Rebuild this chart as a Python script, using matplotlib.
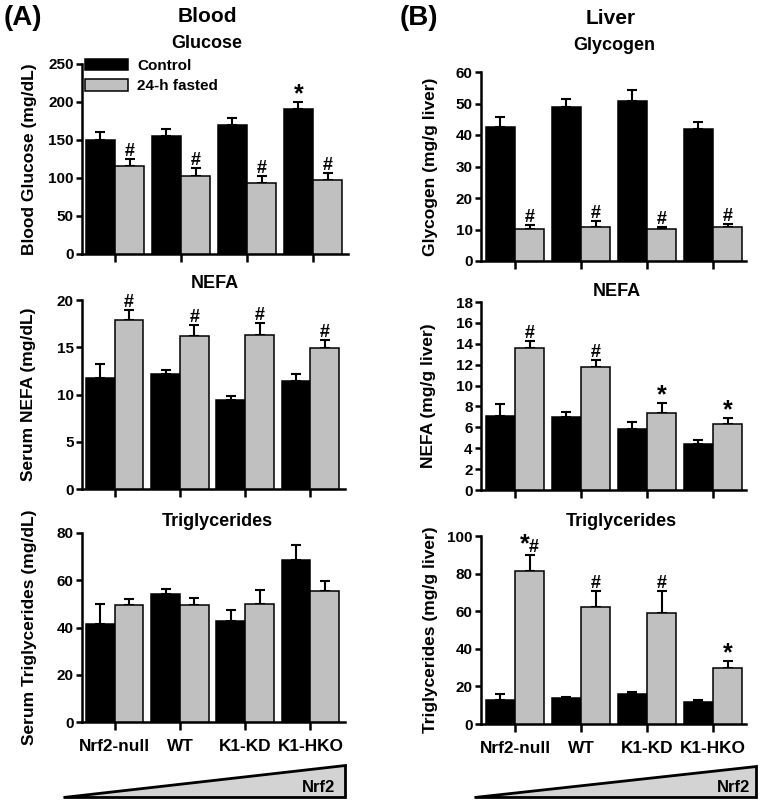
import matplotlib
matplotlib.use("Agg")
import matplotlib.pyplot as plt
from matplotlib.patches import Polygon
import numpy as np

plt.rcParams['font.family'] = ['Liberation Sans', 'DejaVu Sans']
plt.rcParams['font.weight'] = 'bold'

groups = ["Nrf2-null", "WT", "K1-KD", "K1-HKO"]
series_names = ["Control", "24-h fasted"]

# Blood
glu_ctrl = [150, 155, 170, 191]
glu_ctrl_err = [10, 10, 9, 9]
glu_fast = [116, 103, 93, 97]
glu_fast_err = [9, 10, 10, 10]
glu_ctrl_mark = ["", "", "", "*"]
glu_fast_mark = ["#", "#", "#", "#"]

snefa_ctrl = [11.75, 12.2, 9.4, 11.4]
snefa_ctrl_err = [1.45, 0.4, 0.45, 0.8]
snefa_fast = [17.9, 16.2, 16.3, 14.95]
snefa_fast_err = [1.05, 1.2, 1.3, 0.85]
snefa_ctrl_mark = ["", "", "", ""]
snefa_fast_mark = ["#", "#", "#", "#"]

stg_ctrl = [41.5, 54.2, 42.9, 68.5]
stg_ctrl_err = [8.3, 2.2, 4.3, 6.5]
stg_fast = [49.4, 49.4, 49.9, 55.4]
stg_fast_err = [2.6, 3.2, 5.8, 4.4]
stg_ctrl_mark = ["", "", "", ""]
stg_fast_mark = ["", "", "", ""]

# Liver
gly_ctrl = [42.5, 48.8, 50.9, 41.9]
gly_ctrl_err = [3.2, 2.7, 3.3, 2.1]
gly_fast = [10.3, 10.7, 10.2, 10.9]
gly_fast_err = [1.0, 2.0, 0.7, 0.7]
gly_ctrl_mark = ["", "", "", ""]
gly_fast_mark = ["#", "#", "#", "#"]

lnefa_ctrl = [7.13, 6.97, 5.8, 4.36]
lnefa_ctrl_err = [1.07, 0.48, 0.7, 0.39]
lnefa_fast = [13.57, 11.8, 7.4, 6.34]
lnefa_fast_err = [0.73, 0.65, 0.94, 0.56]
lnefa_ctrl_mark = ["", "", "", ""]
lnefa_fast_mark = ["#", "#", "*", "*"]

ltg_ctrl = [12.9, 13.8, 15.9, 11.9]
ltg_ctrl_err = [3.0, 0.7, 1.3, 0.8]
ltg_fast = [81.4, 62.0, 58.9, 29.7]
ltg_fast_err = [8.6, 8.8, 11.9, 3.6]
ltg_ctrl_mark = ["", "", "", ""]
ltg_fast_mark = ["*#", "#", "#", "*"]

W, H = 768, 802
PT = 72.0 / 100  # points per pixel
fig = plt.figure(figsize=(W / 100, H / 100), dpi=100)


def ax_px(left, right, top, bottom):
    ax = fig.add_axes([left / W, 1 - bottom / H, (right - left) / W, (bottom - top) / H])
    ax._px = (left, right, top, bottom)
    return ax


def ftext(x, y, s, size, ha='center', va='center'):
    fig.text(x / W, 1 - y / H, s, fontsize=size, fontweight='bold', ha=ha, va=va)


BLACK = '#000000'
GRAY = '#c0c0c0'


def mark(ax, xx, top, m):
    if m == '#':
        ax.annotate('#', (xx, top), xytext=(0, 3 * PT), textcoords='offset points',
                    ha='center', va='baseline', fontsize=13, fontweight='bold', zorder=5)
    elif m == '*':
        ax.annotate('*', (xx, top), xytext=(0, 1 * PT), textcoords='offset points',
                    ha='center', va='baseline', fontsize=18, fontweight='bold', zorder=5)
    elif m == '*#':
        ax.annotate('*', (xx, top), xytext=(0, 3 * PT), textcoords='offset points',
                    ha='right', va='baseline', fontsize=18, fontweight='bold', zorder=5)
        ax.annotate('#', (xx, top), xytext=(-1 * PT, 3 * PT), textcoords='offset points',
                    ha='left', va='baseline', fontsize=13, fontweight='bold', zorder=5)


def panel(ax, ctrl, cerr, fast, ferr, cmark, fmark, ymax, ystep, ylabel, ylab_x,
          xlab=False, xmin=-0.5, xmax=3.53):
    x = np.arange(len(groups))
    w = 0.44
    ax.bar(x - w / 2, ctrl, w, color=BLACK, edgecolor='black', linewidth=1.1, zorder=3)
    ax.bar(x + w / 2, fast, w, color=GRAY, edgecolor='black', linewidth=1.1, zorder=3)
    ax.errorbar(x - w / 2, ctrl, yerr=[np.zeros(4), cerr], fmt='none', ecolor='black',
                elinewidth=1.5, capsize=3.8, capthick=1.5, zorder=2)
    ax.errorbar(x + w / 2, fast, yerr=[np.zeros(4), ferr], fmt='none', ecolor='black',
                elinewidth=1.5, capsize=3.8, capthick=1.5, zorder=2)
    for i in range(4):
        mark(ax, x[i] - w / 2, ctrl[i] + cerr[i], cmark[i])
        mark(ax, x[i] + w / 2, fast[i] + ferr[i], fmark[i])
    ax.set_ylim(0, ymax)
    ax.set_xlim(xmin, xmax)
    ax.set_yticks(np.arange(0, ymax + ystep / 2, ystep))
    ax.set_xticks(x)
    if xlab:
        ax.set_xticklabels(groups, fontsize=12.4, fontweight='bold')
    else:
        ax.set_xticklabels([])
    ax.spines['top'].set_visible(False)
    ax.spines['right'].set_visible(False)
    for s in ('left', 'bottom'):
        ax.spines[s].set_linewidth(1.8)
    ax.tick_params(axis='y', direction='out', width=1.8, length=4.5, labelsize=11, pad=1.5)
    ax.tick_params(axis='x', direction='out', width=1.8, length=6, labelsize=12.4, pad=6)
    for lab in ax.get_yticklabels():
        lab.set_fontweight('bold')
    ax.set_ylabel(ylabel, fontsize=12.5, fontweight='bold', va='center')
    left, right, top, bottom = ax._px
    ax.yaxis.set_label_coords((ylab_x - left) / (right - left), 0.5)


# Panel A
a1 = ax_px(82, 348, 64, 254)
panel(a1, glu_ctrl, glu_ctrl_err, glu_fast, glu_fast_err, glu_ctrl_mark, glu_fast_mark,
      250, 50, "Blood Glucose (mg/dL)", 30)
a1.legend(series_names, loc='upper left', bbox_to_anchor=(0.0, 1.045), frameon=False,
          handlelength=2.8, handleheight=0.75, handletextpad=0.6,
          labelspacing=0.45, borderaxespad=0.0, borderpad=0.2,
          prop={'weight': 'bold', 'size': 11})
a2 = ax_px(82, 345, 300, 489)
panel(a2, snefa_ctrl, snefa_ctrl_err, snefa_fast, snefa_fast_err, snefa_ctrl_mark, snefa_fast_mark,
      20, 5, "Serum NEFA (mg/dL)", 29)
a3 = ax_px(82, 345, 533, 722)
panel(a3, stg_ctrl, stg_ctrl_err, stg_fast, stg_fast_err, stg_ctrl_mark, stg_fast_mark,
      80, 20, "Serum Triglycerides (mg/dL)", 30, xlab=True)

# Panel B
b1 = ax_px(481, 746, 72, 261)
panel(b1, gly_ctrl, gly_ctrl_err, gly_fast, gly_fast_err, gly_ctrl_mark, gly_fast_mark,
      60, 10, "Glycogen (mg/g liver)", 430, xmin=-0.515, xmax=3.5)
b2 = ax_px(481, 746, 302, 490)
panel(b2, lnefa_ctrl, lnefa_ctrl_err, lnefa_fast, lnefa_fast_err, lnefa_ctrl_mark, lnefa_fast_mark,
      18, 2, "NEFA (mg/g liver)", 429, xmin=-0.515, xmax=3.5)
b3 = ax_px(481, 746, 536, 724)
panel(b3, ltg_ctrl, ltg_ctrl_err, ltg_fast, ltg_fast_err, ltg_ctrl_mark, ltg_fast_mark,
      100, 20, "Triglycerides (mg/g liver)", 431, xlab=True, xmin=-0.515, xmax=3.5)

# Titles
ftext(4, 18, "(A)", 20, ha='left')
ftext(207, 16, "Blood", 15)
ftext(207, 43, "Glucose", 13)
ftext(215, 284, "NEFA", 13)
ftext(217, 521, "Triglycerides", 13)

ftext(400, 18, "(B)", 20, ha='left')
ftext(611, 18, "Liver", 15)
ftext(614, 45, "Glycogen", 13)
ftext(617, 292, "NEFA", 13)
ftext(621, 521, "Triglycerides", 13)


# Nrf2 wedges
def wedge(x0, x1, ybot, ytop, tx):
    pts = [(x0 / W, 1 - ybot / H), (x1 / W, 1 - ybot / H), (x1 / W, 1 - ytop / H)]
    fig.patches.append(Polygon(pts, closed=True, facecolor='#d3d3d3', edgecolor='black',
                               linewidth=2, transform=fig.transFigure, figure=fig))
    ftext(tx, 792, "Nrf2", 12, ha='right', va='baseline')


wedge(63, 345, 797, 765, 335)
wedge(474, 756, 797, 766, 750)

fig.savefig("out.png", dpi=100)
